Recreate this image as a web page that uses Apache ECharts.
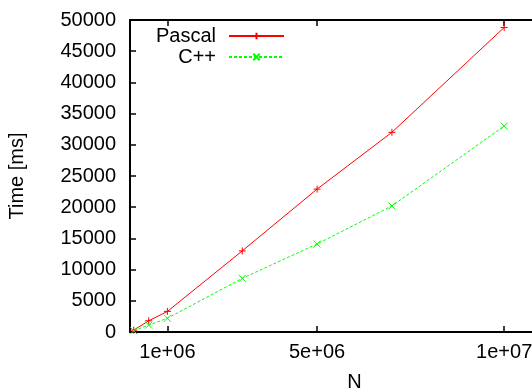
<!DOCTYPE html>
<html>
<head>
<meta charset="utf-8">
<script src="https://cdn.jsdelivr.net/npm/echarts@6/dist/echarts.min.js"></script>
<style>
  html, body { margin: 0; padding: 0; background: #fff; }
  #chart { width: 532px; height: 390px; }
</style>
</head>
<body>
<div id="chart"></div>
<script>
const sizes = [1e5, 5e5, 1e6, 3e6, 5e6, 7e6, 1e7]
const pascalTimes = [300, 1800, 3300, 13000, 22900, 32000, 48800]
const cppTimes = [200, 1100, 2200, 8600, 14100, 20200, 33000]
const xTicks = [1e6, 5e6, 1e7]
const xTickLabels = ['1e+06', '5e+06', '1e+07']

const font = 'Liberation Sans, Arial, sans-serif'
const fontSize = 20
const plusSymbol = 'path://M0,5L10,5M5,0L5,10'
const crossSymbol = 'path://M0,0L10,10M10,0L0,10'

const chart = echarts.init(document.getElementById('chart'), null, { renderer: 'canvas' })

const axisLine = { show: true, lineStyle: { color: '#000', width: 2 } }
const tick = { inside: true, length: 6, lineStyle: { color: '#000', width: 1.5 } }

const legendBase = {
  orient: 'vertical',
  align: 'right',
  right: 247,
  padding: 0,
  itemWidth: 55,
  itemHeight: 8,
  textStyle: { color: '#000', fontSize, fontFamily: font, padding: [0, 8, 0, 0] },
}

chart.setOption({
  animation: false,
  grid: { left: 130, top: 20, right: -47, bottom: 58, containLabel: false, outerBoundsMode: 'none' },
  legend: [
    { ...legendBase, data: ['Pascal'], top: 26 },
    { ...legendBase, data: ['C++'], top: 47 },
  ],
  xAxis: [
    {
      type: 'value',
      min: 0,
      max: 1.2e7,
      name: 'N',
      nameLocation: 'middle',
      nameGap: 40,
      nameTextStyle: { color: '#000', fontSize, fontFamily: font },
      axisLine,
      axisTick: { ...tick, customValues: xTicks },
      axisLabel: {
        customValues: xTicks,
        color: '#000',
        fontSize,
        fontFamily: font,
        margin: 10,
        formatter: (v) => xTickLabels[xTicks.indexOf(v)] ?? '',
      },
      splitLine: { show: false },
    },
    {
      type: 'value',
      position: 'top',
      min: 0,
      max: 1.2e7,
      axisLine,
      axisTick: { ...tick, customValues: xTicks },
      axisLabel: { show: false },
      splitLine: { show: false },
    },
  ],
  yAxis: {
    type: 'value',
    min: 0,
    max: 50000,
    interval: 5000,
    name: 'Time [ms]',
    nameLocation: 'middle',
    nameGap: 103,
    nameTextStyle: { color: '#000', fontSize, fontFamily: font },
    axisLine,
    axisTick: tick,
    axisLabel: { color: '#000', fontSize, fontFamily: font, margin: 14, formatter: (v) => String(v) },
    splitLine: { show: false },
  },
  series: [
    {
      name: 'Pascal',
      type: 'line',
      data: sizes.map((n, i) => [n, pascalTimes[i]]),
      symbol: plusSymbol,
      symbolSize: 7,
      showAllSymbol: true,
      lineStyle: { color: '#ff0000', width: 1 },
      itemStyle: { color: '#ff0000', borderColor: '#ff0000', borderWidth: 1 },
      emphasis: { disabled: true },
    },
    {
      name: 'C++',
      type: 'line',
      data: sizes.map((n, i) => [n, cppTimes[i]]),
      symbol: crossSymbol,
      symbolSize: 7,
      showAllSymbol: true,
      lineStyle: { color: '#00ff00', width: 1, type: [3, 2] },
      itemStyle: { color: '#00ff00', borderColor: '#00ff00', borderWidth: 1 },
      emphasis: { disabled: true },
    },
  ],
})
</script>
</body>
</html>
